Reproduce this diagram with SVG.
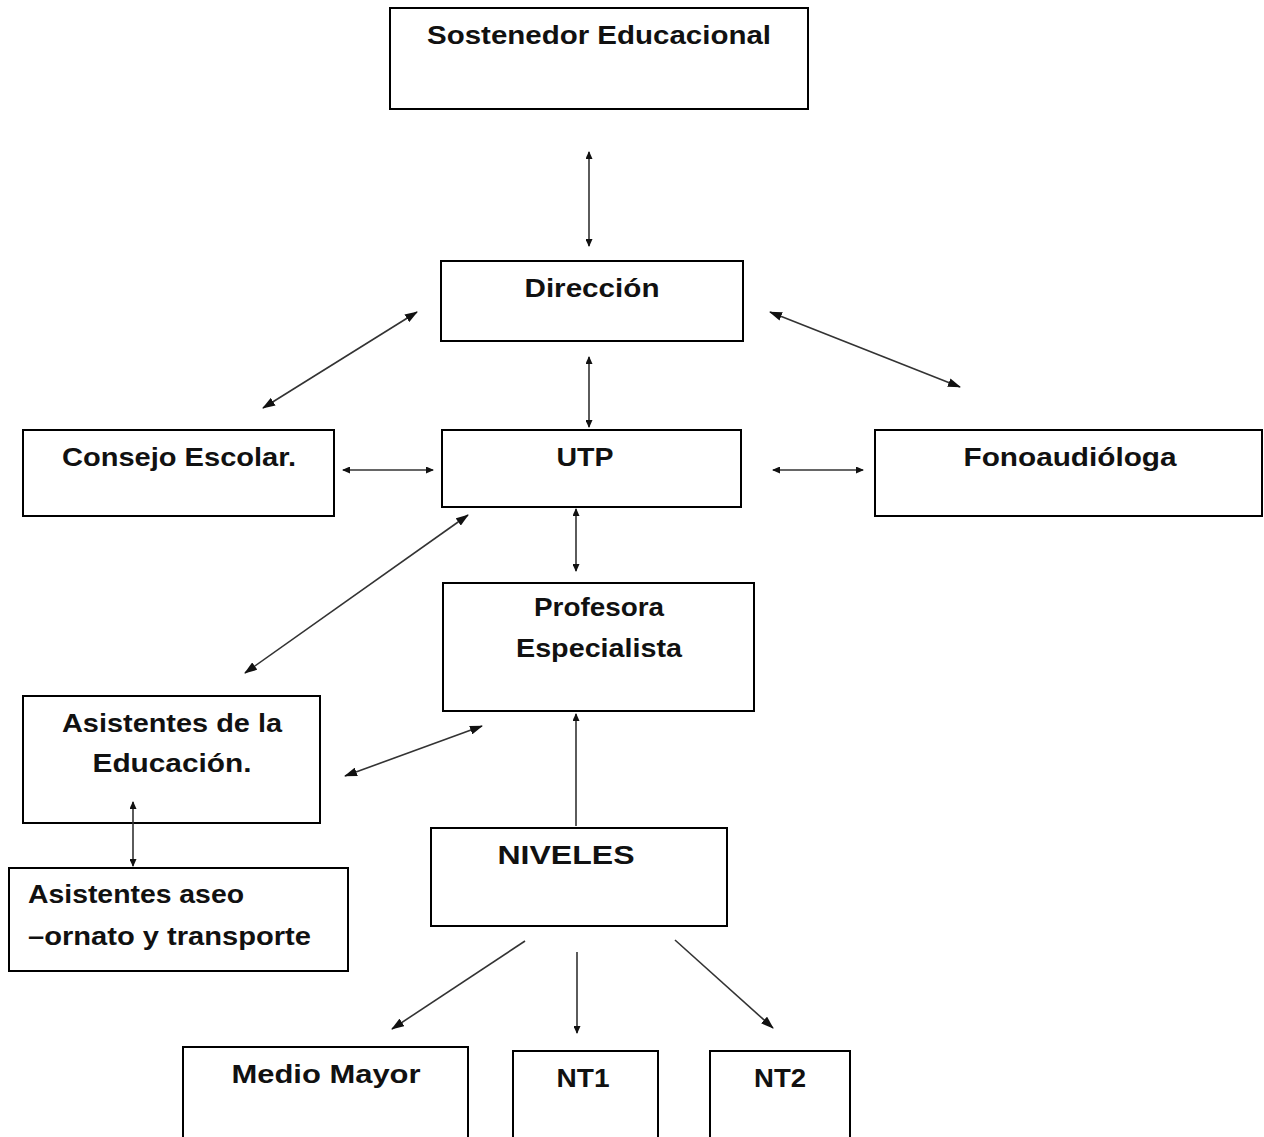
<svg xmlns="http://www.w3.org/2000/svg" width="1264" height="1137" viewBox="0 0 1264 1137">
<style>
.box{fill:#fff;stroke:#000;stroke-width:2}
.t{font-family:"Liberation Sans",Arial,sans-serif;font-weight:bold;font-size:25px;fill:#111;text-anchor:middle}
.c{stroke:#333;stroke-width:1.6;fill:none}
</style>
<defs>
<marker id="big" markerUnits="userSpaceOnUse" markerWidth="13" markerHeight="9" refX="12" refY="4.5" orient="auto-start-reverse" viewBox="0 0 13 9">
<path d="M0,0 L13,4.5 L0,9 z" fill="#111"/>
</marker>
<marker id="sm" markerUnits="userSpaceOnUse" markerWidth="8" markerHeight="7" refX="7" refY="3.5" orient="auto-start-reverse" viewBox="0 0 8 7">
<path d="M0,0 L8,3.5 L0,7 z" fill="#111"/>
</marker>
</defs>
<g id="sostenedor"><rect class="box" x="390" y="8" width="418" height="101"/><text class="t" x="599" y="44" textLength="344" lengthAdjust="spacingAndGlyphs">Sostenedor Educacional</text></g>
<g id="direccion"><rect class="box" x="441" y="261" width="302" height="80"/><text class="t" x="592" y="297" textLength="135" lengthAdjust="spacingAndGlyphs">Dirección</text></g>
<g id="consejo"><rect class="box" x="23" y="430" width="311" height="86"/><text class="t" x="179" y="466" textLength="234" lengthAdjust="spacingAndGlyphs">Consejo Escolar.</text></g>
<g id="utp"><rect class="box" x="442" y="430" width="299" height="77"/><text class="t" x="585" y="466" textLength="57" lengthAdjust="spacingAndGlyphs">UTP</text></g>
<g id="fono"><rect class="box" x="875" y="430" width="387" height="86"/><text class="t" x="1070" y="466" textLength="213" lengthAdjust="spacingAndGlyphs">Fonoaudióloga</text></g>
<g id="profesora"><rect class="box" x="443" y="583" width="311" height="128"/><text class="t" x="599" y="616" textLength="130" lengthAdjust="spacingAndGlyphs">Profesora</text><text class="t" x="599" y="657" textLength="166" lengthAdjust="spacingAndGlyphs">Especialista</text></g>
<g id="asistentes"><rect class="box" x="23" y="696" width="297" height="127"/><text class="t" x="172" y="732" textLength="220" lengthAdjust="spacingAndGlyphs">Asistentes de la</text><text class="t" x="172" y="772" textLength="159" lengthAdjust="spacingAndGlyphs">Educación.</text></g>
<g id="aseo"><rect class="box" x="9" y="868" width="339" height="103"/><text class="t" x="28" y="903" textLength="216" lengthAdjust="spacingAndGlyphs" style="text-anchor:start">Asistentes aseo</text><text class="t" x="28" y="945" textLength="283" lengthAdjust="spacingAndGlyphs" style="text-anchor:start">–ornato y transporte</text></g>
<g id="niveles"><rect class="box" x="431" y="828" width="296" height="98"/><text class="t" x="566" y="864" textLength="137" lengthAdjust="spacingAndGlyphs">NIVELES</text></g>
<g id="medio"><rect class="box" x="183" y="1047" width="285" height="110"/><text class="t" x="326" y="1083" textLength="189" lengthAdjust="spacingAndGlyphs">Medio Mayor</text></g>
<g id="nt1"><rect class="box" x="513" y="1051" width="145" height="110"/><text class="t" x="583" y="1087" textLength="53" lengthAdjust="spacingAndGlyphs">NT1</text></g>
<g id="nt2"><rect class="box" x="710" y="1051" width="140" height="110"/><text class="t" x="780" y="1087" textLength="52" lengthAdjust="spacingAndGlyphs">NT2</text></g>
<g id="connectors">
<line class="c" x1="589" y1="152" x2="589" y2="246" marker-start="url(#sm)" marker-end="url(#sm)"/>
<line class="c" x1="417" y1="312" x2="263" y2="408" marker-start="url(#big)" marker-end="url(#big)"/>
<line class="c" x1="770" y1="312" x2="960" y2="387" marker-start="url(#big)" marker-end="url(#big)"/>
<line class="c" x1="589" y1="357" x2="589" y2="427" marker-start="url(#sm)" marker-end="url(#sm)"/>
<line class="c" x1="343" y1="470" x2="433" y2="470" marker-start="url(#sm)" marker-end="url(#sm)"/>
<line class="c" x1="773" y1="470" x2="863" y2="470" marker-start="url(#sm)" marker-end="url(#sm)"/>
<line class="c" x1="468" y1="515" x2="245" y2="673" marker-start="url(#big)" marker-end="url(#big)"/>
<line class="c" x1="576" y1="509" x2="576" y2="571" marker-start="url(#sm)" marker-end="url(#sm)"/>
<line class="c" x1="482" y1="726" x2="345" y2="776" marker-start="url(#big)" marker-end="url(#big)"/>
<line class="c" x1="576" y1="826" x2="576" y2="714" marker-end="url(#sm)"/>
<line class="c" x1="133" y1="802" x2="133" y2="866" marker-start="url(#sm)" marker-end="url(#sm)"/>
<line class="c" x1="525" y1="941" x2="392" y2="1029" marker-end="url(#big)"/>
<line class="c" x1="577" y1="952" x2="577" y2="1033" marker-end="url(#sm)"/>
<line class="c" x1="675" y1="940" x2="773" y2="1028" marker-end="url(#big)"/>
</g>
</svg>
